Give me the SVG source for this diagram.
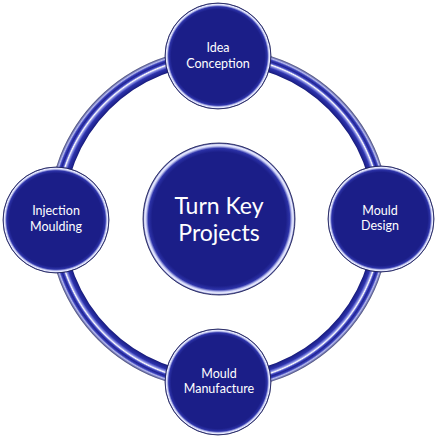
<svg xmlns="http://www.w3.org/2000/svg" width="437" height="439" viewBox="0 0 437 439">
<defs>
<radialGradient id="tube" gradientUnits="userSpaceOnUse" cx="219" cy="219" r="172">
<stop offset="0.895" stop-color="#14166a"/>
<stop offset="0.905" stop-color="#1c2088"/>
<stop offset="0.925" stop-color="#2d33ad"/>
<stop offset="0.937" stop-color="#8a90e4"/>
<stop offset="0.945" stop-color="#ffffff"/>
<stop offset="0.953" stop-color="#4a50c8"/>
<stop offset="0.962" stop-color="#1e2292"/>
<stop offset="0.972" stop-color="#3c42bc"/>
<stop offset="0.980" stop-color="#b8bcf0"/>
<stop offset="0.988" stop-color="#7075b0"/>
<stop offset="0.996" stop-color="#3a3c60"/>
</radialGradient>
<radialGradient id="ball" cx="0.5" cy="0.5" r="0.5">
<stop offset="0" stop-color="#1b1e88"/>
<stop offset="0.88" stop-color="#1b1e88"/>
<stop offset="0.93" stop-color="#2c32a8"/>
<stop offset="0.96" stop-color="#c9cdf6"/>
<stop offset="0.978" stop-color="#eef0ff"/>
<stop offset="1" stop-color="#3a3f9c"/>
</radialGradient>
<style>
.arc{fill:none;stroke:url(#tube);stroke-width:16}
.node{fill:url(#ball);stroke:#14164e;stroke-width:0.8}
.lbl{font-family:Lato,"Open Sans","Liberation Sans",sans-serif;fill:#ffffff;text-anchor:middle;font-size:12.5px}
.big{font-size:23px}
</style>
</defs>
<g id="connectors">
<path class="arc" d="M219,56 A163,163 0 0 1 382,219"/>
<path class="arc" d="M382,219 A163,163 0 0 1 219,382"/>
<path class="arc" d="M219,382 A163,163 0 0 1 56,219"/>
<path class="arc" d="M56,219 A163,163 0 0 1 219,56"/>
</g>
<g id="center">
<circle class="node" cx="219" cy="219" r="76"/>
<text class="lbl big" x="219" y="214">Turn Key</text>
<text class="lbl big" x="219" y="241">Projects</text>
</g>
<g id="idea">
<circle class="node" cx="218" cy="56" r="53"/>
<text class="lbl" x="218" y="52">Idea</text>
<text class="lbl" x="218" y="68">Conception</text>
</g>
<g id="design">
<circle class="node" cx="381" cy="219" r="53"/>
<text class="lbl" x="380" y="215">Mould</text>
<text class="lbl" x="380" y="230">Design</text>
</g>
<g id="manufacture">
<circle class="node" cx="218" cy="382" r="53"/>
<text class="lbl" x="219" y="378">Mould</text>
<text class="lbl" x="219" y="393">Manufacture</text>
</g>
<g id="injection">
<circle class="node" cx="56" cy="220" r="53"/>
<text class="lbl" x="56" y="215">Injection</text>
<text class="lbl" x="56" y="231">Moulding</text>
</g>
</svg>
